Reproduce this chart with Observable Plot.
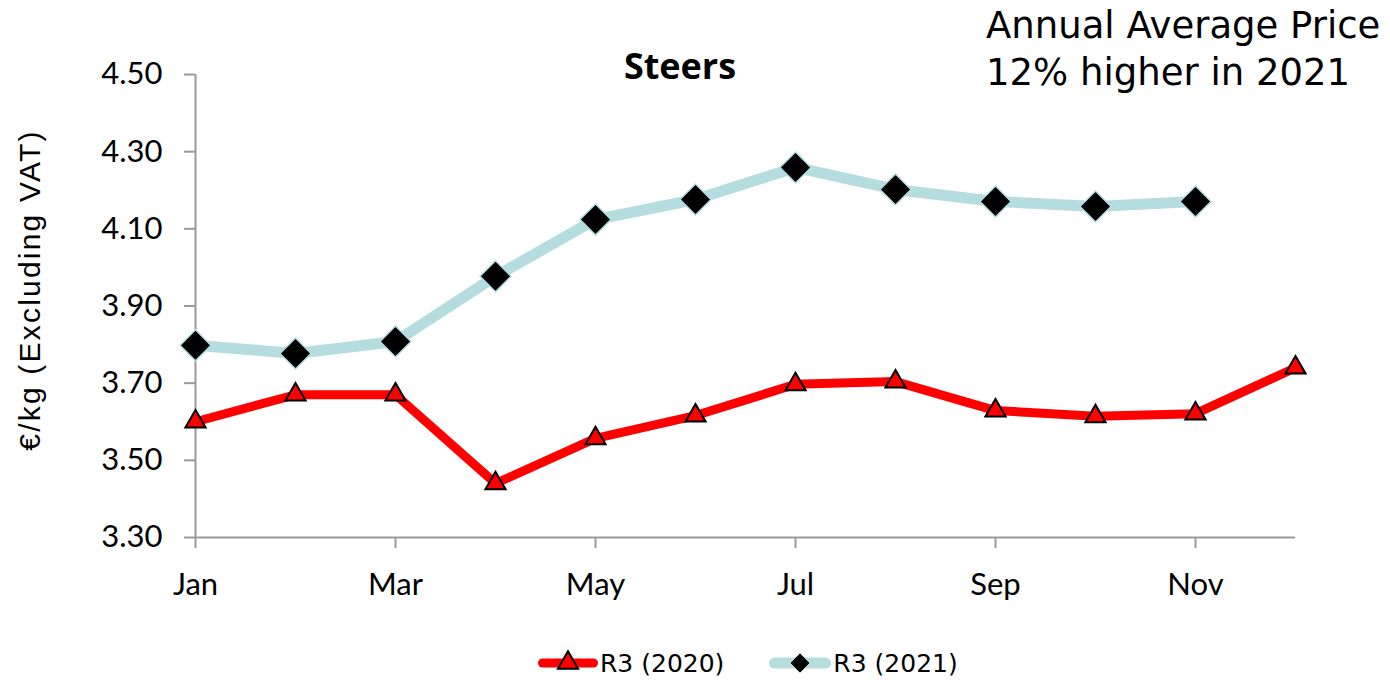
<!DOCTYPE html>
<html><head><meta charset="utf-8">
<script src="https://cdn.jsdelivr.net/npm/d3@7"></script>
<script src="https://cdn.jsdelivr.net/npm/@observablehq/plot@0.6"></script>
<style>
body{margin:0;background:#fff;width:1390px;height:680px;position:relative;overflow:hidden}
#chart{position:absolute;left:0;top:0}
.title{position:absolute;left:0;width:1360px;text-align:center;top:48px;font-family:"Open Sans",sans-serif;font-weight:bold;font-size:36px;line-height:1;color:#000}
.note{position:absolute;left:986px;top:2px;font-family:"DejaVu Sans",sans-serif;font-size:37px;line-height:47px;color:#000;white-space:nowrap}
.ylab{position:absolute;left:30px;top:290px;transform:translate(-50%,-50%) rotate(-90deg);font-family:"Liberation Sans",Arial,sans-serif;font-size:30px;letter-spacing:2.2px;white-space:nowrap;color:#000}
.legend{position:absolute;top:648px;left:538px;height:30px;display:flex;align-items:center;font-family:"DejaVu Sans",sans-serif;font-size:25px;color:#000}
.legend .item{display:flex;align-items:center}
.legend svg{display:block}
</style>
</head><body>
<div id="chart"></div>
<div class="title">Steers</div>
<div class="note">Annual Average Price<br>12% higher in 2021</div>
<div class="ylab">€/kg (Excluding VAT)</div>
<div class="legend" id="legend"></div>
<script>
const months = ["Jan","Feb","Mar","Apr","May","Jun","Jul","Aug","Sep","Oct","Nov","Dec"];
const r3_2020 = [3.60,3.67,3.67,3.44,3.557,3.616,3.697,3.704,3.629,3.614,3.621,3.74];
const r3_2021 = [3.798,3.777,3.808,3.977,4.124,4.176,4.259,4.202,4.171,4.158,4.171];
const yTicks = [3.30,3.50,3.70,3.90,4.10,4.30,4.50];
const xTickLabels = ["Jan","Mar","May","Jul","Sep","Nov"];
const seriesNames = ["R3 (2020)","R3 (2021)"];
const colors = {red:"#ff0000", blue:"#b5dde0", axis:"#9a9a9a"};

const d2020 = r3_2020.map((v,i)=>({m:i,v}));
const d2021 = r3_2021.map((v,i)=>({m:i,v}));
const xTicks = xTickLabels.map(l=>months.indexOf(l));

const chart = Plot.plot({
  width:1390, height:630,
  marginLeft:195, marginRight:95, marginTop:74, marginBottom:93,
  x:{domain:[0,11]},
  y:{domain:[3.3,4.5]},
  style:{fontFamily:"Lato, sans-serif", fontSize:"31px", color:"black", background:"white", overflow:"visible"},
  marks:[
    Plot.axisX({ticks:xTicks, tickFormat:i=>months[i], tickSize:11, tickPadding:24, stroke:colors.axis, strokeWidth:2, fill:"black", label:null}),
    Plot.axisY({ticks:yTicks, tickFormat:d3.format(".2f"), tickSize:11, tickPadding:22, stroke:colors.axis, strokeWidth:2, fill:"black", label:null}),
    Plot.ruleY([3.3],{stroke:colors.axis, strokeWidth:2}),
    Plot.ruleX([0],{stroke:colors.axis, strokeWidth:2}),
    Plot.line(d2021,{x:"m",y:"v",stroke:colors.blue,strokeWidth:11,strokeLinejoin:"round",strokeLinecap:"round"}),
    Plot.line(d2020,{x:"m",y:"v",stroke:colors.red,strokeWidth:9,strokeLinejoin:"round"}),
    Plot.dot(d2021,{x:"m",y:"v",symbol:"diamond2",r:14,fill:"black",stroke:colors.blue,strokeWidth:1.5}),
    Plot.dot(d2020,{x:"m",y:"v",symbol:"triangle",r:7.5,fill:colors.red,stroke:"black",strokeWidth:2})
  ]
});
document.getElementById("chart").appendChild(chart);

// legend
const leg = document.getElementById("legend");
function swatch(color, lw, sym, r, fill, stroke, sw, w){
  const s = d3.create("svg").attr("width",w).attr("height",30);
  s.append("line").attr("x1",lw/2).attr("x2",w-lw/2).attr("y1",15).attr("y2",15)
    .attr("stroke",color).attr("stroke-width",lw).attr("stroke-linecap","round");
  s.append("path").attr("d",d3.symbol(sym, Math.PI*r*r)()).attr("transform",`translate(${w/2},15)`)
    .attr("fill",fill).attr("stroke",stroke).attr("stroke-width",sw);
  return s.node();
}
const items = [
  {name:seriesNames[0], el:swatch(colors.red,9,d3.symbolTriangle,7.5,colors.red,"black",2,60), gap:"45px"},
  {name:seriesNames[1], el:swatch(colors.blue,11,d3.symbolDiamond2,9,"black",colors.blue,1,62), gap:"0"}
];
items.forEach(it=>{
  const d = document.createElement("div"); d.className="item"; d.style.marginRight=it.gap;
  d.appendChild(it.el);
  const t = document.createElement("span"); t.textContent=it.name; t.style.marginLeft="2px";
  d.appendChild(t); leg.appendChild(d);
});
</script>
</body></html>
